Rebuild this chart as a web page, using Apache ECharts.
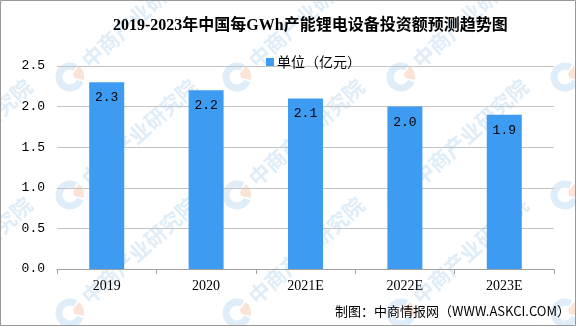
<!DOCTYPE html>
<html><head><meta charset="utf-8">
<script src="https://cdn.jsdelivr.net/npm/echarts@6/dist/echarts.min.js"></script>
<style>html,body{margin:0;padding:0;background:#fff}#c{width:576px;height:326px}</style>
</head><body><div id="c"></div>
<script>
const categories = ['2019', '2020', '2021E', '2022E', '2023E'];
const values = [2.3, 2.2, 2.1, 2.0, 1.9];
const yTicks = [0, 0.5, 1.0, 1.5, 2.0, 2.5];
const seriesName = '单位（亿元）';
const titleText = '2019-2023年中国每GWh产能锂电设备投资额预测趋势图';
const footerText = '制图：中商情报网（WWW.ASKCI.COM）';
const watermarkText = '中商产业研究院';

const chart = echarts.init(document.getElementById('c'));

const wm = [];
const cols = [-95, 70, 237, 401, 565];
const rows = [77, 195, 313];
rows.forEach(y => cols.forEach(x => {
  wm.push({
    type: 'group', x: x, y: y, rotation: 42 * Math.PI / 180, z: -10, silent: true,
    children: [
      {type: 'arc', z: -10, shape: {cx: 0, cy: 0, r: 11, startAngle: Math.PI * 0.35, endAngle: Math.PI * 1.9},
       style: {stroke: '#dfedf8', lineWidth: 7, fill: null}},
      {type: 'sector', z: -10, shape: {cx: 0, cy: 0, r0: 4, r: 14, startAngle: -Math.PI * 0.05, endAngle: Math.PI * 0.3},
       style: {fill: '#fae4d8'}},
      {type: 'text', z: -10, x: 20, y: 0, style: {text: watermarkText, fill: '#dfedf8', font: 'bold 21px "Noto Sans CJK SC"', textVerticalAlign: 'middle'}}
    ]
  });
}));

chart.setOption({
  animation: false,
  title: {
    text: titleText, left: 108, top: 13,
    textStyle: {fontFamily: '"Liberation Serif","Noto Sans CJK SC"', fontWeight: 'bold', fontSize: 16, color: '#000'}
  },
  legend: {
    data: [seriesName], top: 50, left: 261, itemWidth: 8, itemHeight: 8, itemGap: 4,
    icon: 'rect',
    textStyle: {fontFamily: '"Noto Sans CJK SC"', fontSize: 14, color: '#000', padding: [0,0,0,-2]}
  },
  grid: {left: 57, right: 22, top: 66, bottom: 57},
  xAxis: {
    type: 'category', data: categories, boundaryGap: true,
    axisLine: {lineStyle: {color: '#a0a0a0'}},
    axisTick: {show: true, length: 5, alignWithLabel: false, lineStyle: {color: '#a0a0a0'}},
    axisLabel: {margin: 10, fontFamily: '"Liberation Serif"', fontSize: 14, color: '#000'}
  },
  yAxis: {
    type: 'value', min: 0, max: 2.5, interval: 0.5,
    axisLine: {show: false}, axisTick: {show: false},
    splitLine: {lineStyle: {color: '#c4c4c4'}},
    axisLabel: {margin: 12, fontFamily: '"Liberation Mono"', fontSize: 13, color: '#000',
      formatter: v => v.toFixed(1)}
  },
  series: [{
    name: seriesName, type: 'bar', data: values, barWidth: 35, z: 5,
    itemStyle: {color: '#3d9cf2'},
    label: {show: true, position: 'insideTop', distance: 9, fontFamily: '"Liberation Mono"', fontSize: 13, color: '#000',
      formatter: p => p.value.toFixed(1)}
  }],
  graphic: wm.concat([
    {type: 'rect', shape: {x: 0.5, y: 0.5, width: 575, height: 325}, style: {fill: null, stroke: '#999', lineWidth: 1}, z: 100, silent: true},
    {type: 'text', right: 6, top: 305, style: {text: footerText, font: '13px "Noto Sans CJK SC"', fill: '#000'}, z: 100}
  ])
});
</script></body></html>
